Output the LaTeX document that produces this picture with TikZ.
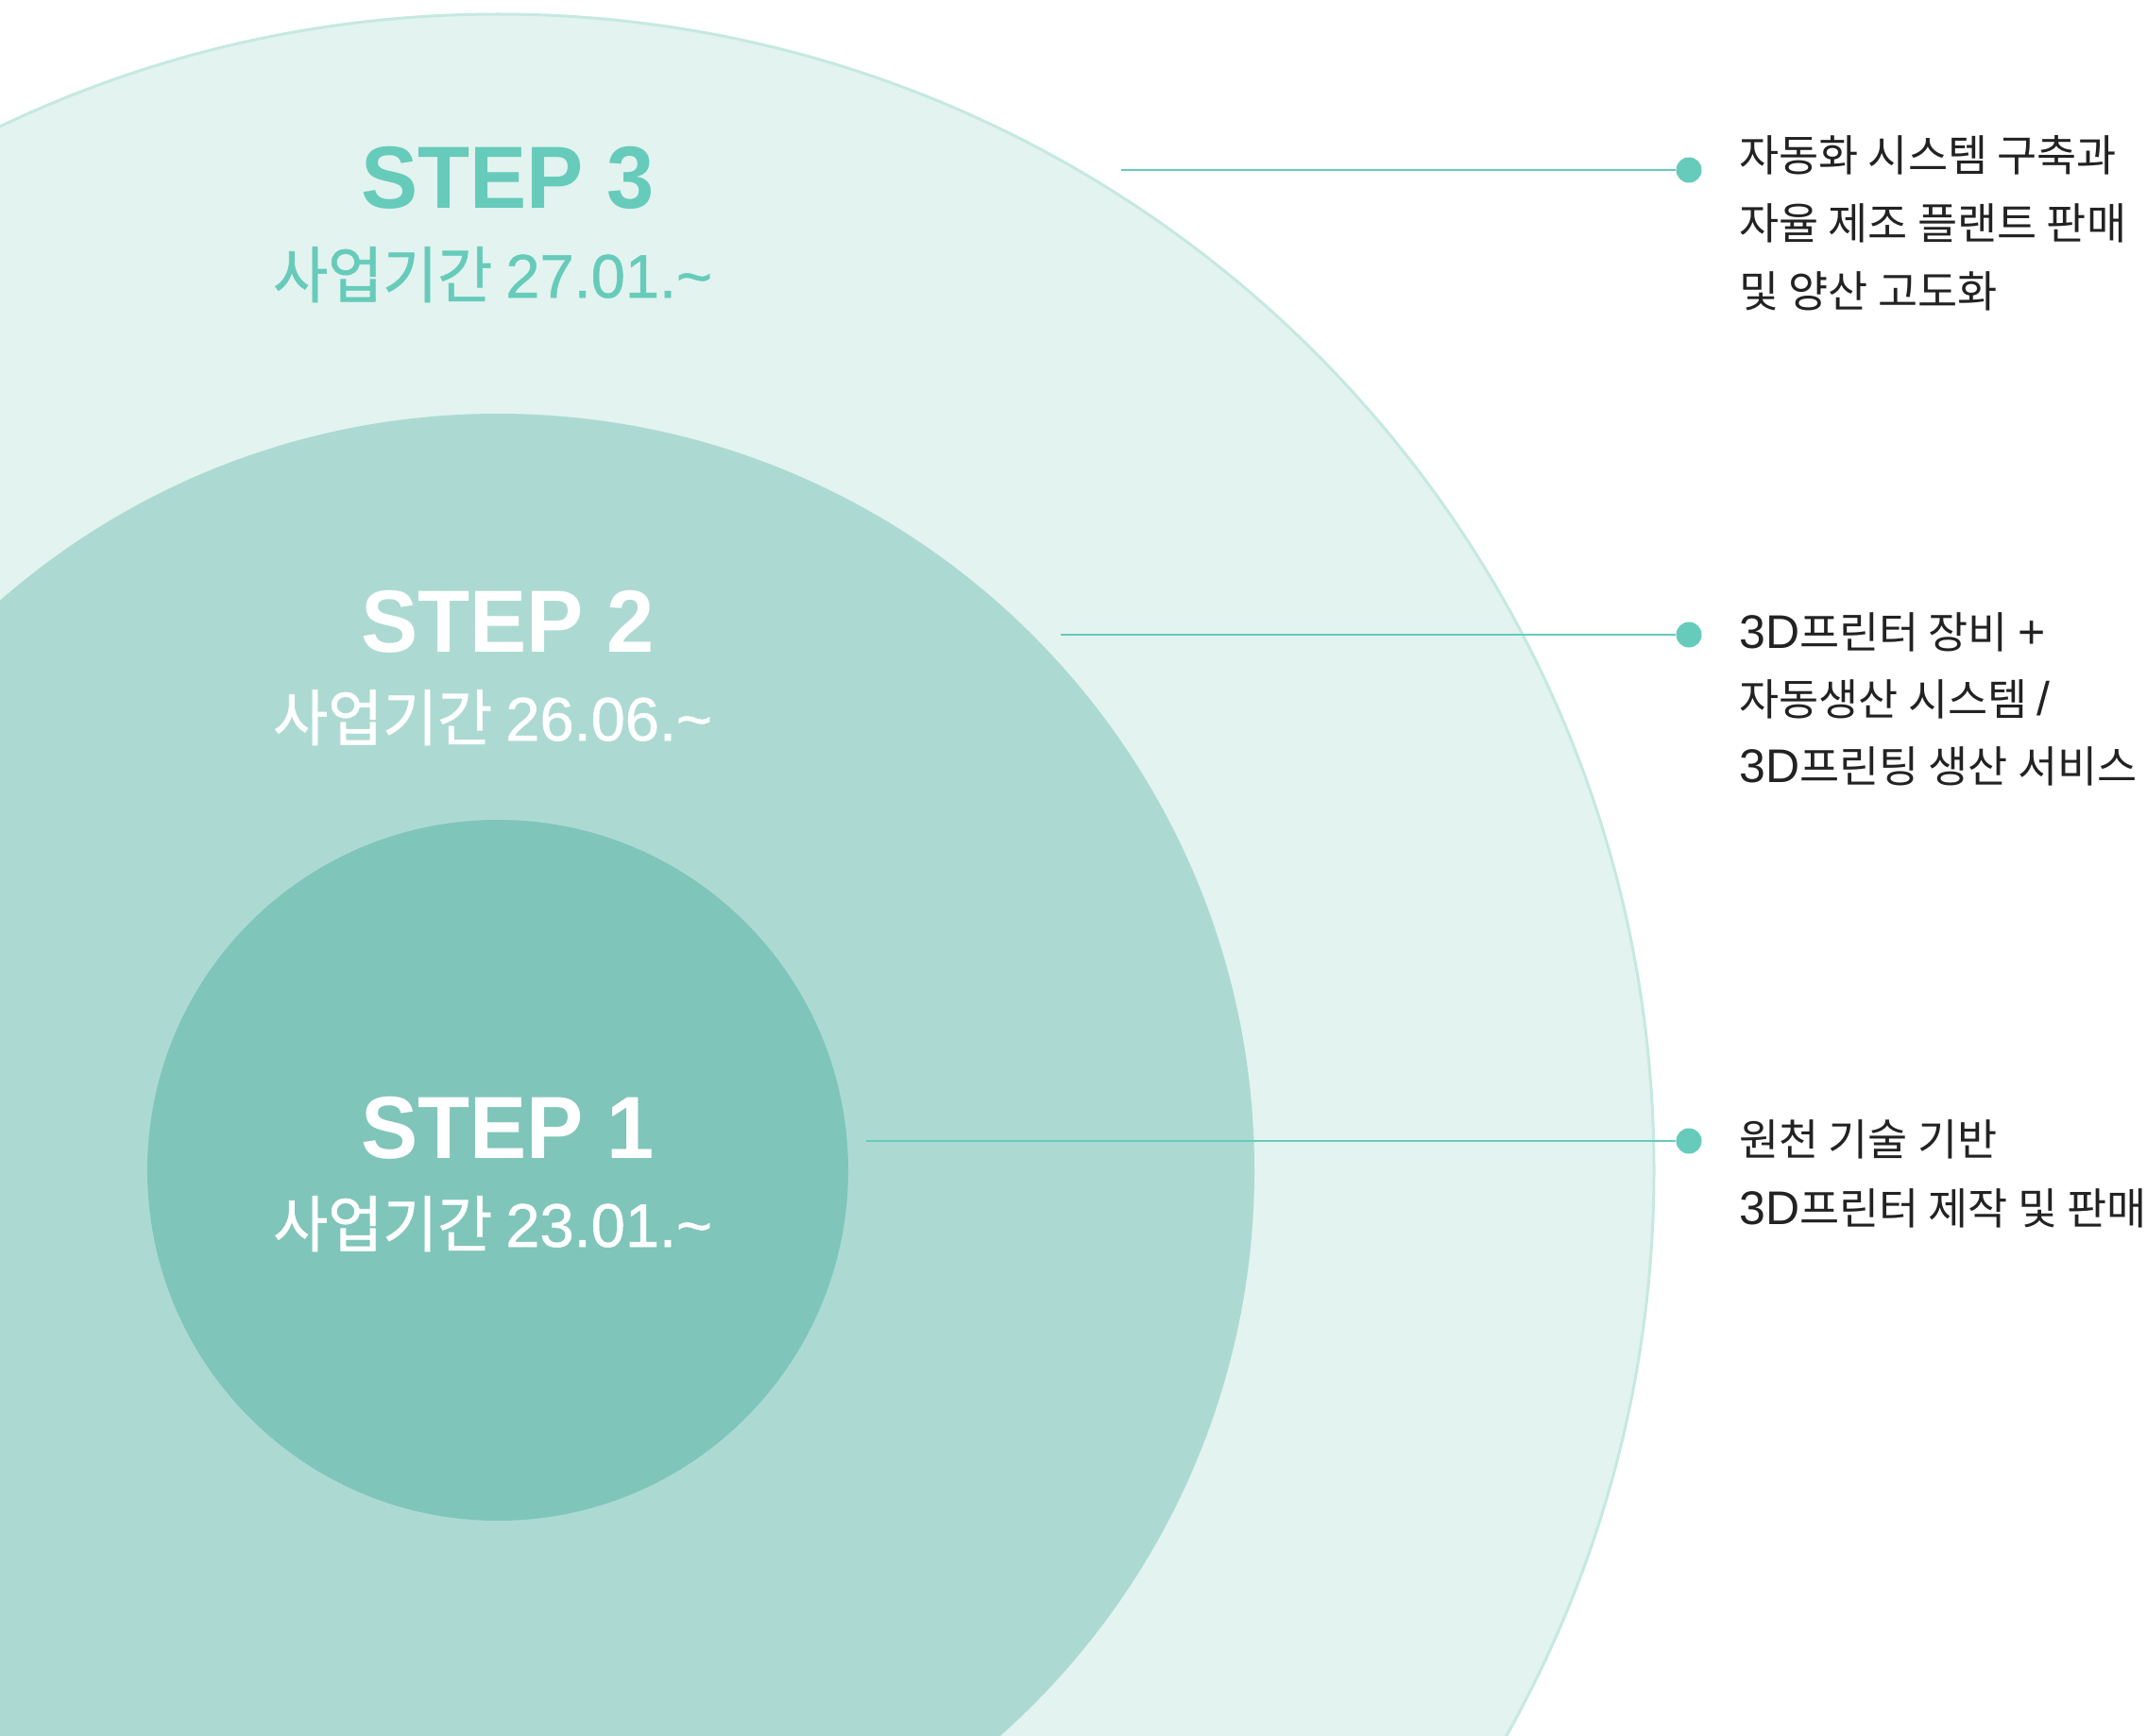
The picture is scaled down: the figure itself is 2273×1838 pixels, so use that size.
\documentclass[tikz,border=0pt]{standalone}
\usepackage{fontspec}
\setmainfont{Noto Sans CJK KR}
\newfontfamily\latb[FakeStretch=0.965]{Liberation Sans}
\newfontfamily\lat{Liberation Sans}
\newfontfamily\latsub[FakeStretch=1.0,FakeBold=0.8]{Liberation Sans}
\newfontfamily\subfont[FakeStretch=0.97,FakeBold=1]{Noto Sans CJK KR}
\newfontfamily\labfont{Noto Sans CJK KR}
\newcommand\lt[1]{{\lat\fontsize{50}{50}\selectfont #1}}
\definecolor{ringthree}{HTML}{E3F3EF}
\definecolor{ringedge}{HTML}{C5E9E0}
\definecolor{ringtwo}{HTML}{ACDAD3}
\definecolor{ringone}{HTML}{7FC5BA}
\definecolor{accent}{HTML}{66CBBA}
\definecolor{ink}{HTML}{222222}
\tikzset{
  steptitle/.style={anchor=base west, inner sep=0pt, font=\latb\bfseries\fontsize{93.5}{94}\selectfont},
  stepsub/.style={anchor=base west, inner sep=0pt, font=\subfont\fontsize{65}{65}\selectfont},
  labtext/.style={anchor=base west, inner sep=0pt, text=ink, font=\labfont\fontsize{45.8}{46}\selectfont},
  dot/.style={circle, fill=accent, inner sep=0pt, minimum size=27pt},
  lead/.style={draw=accent, line width=2.5pt}
}
\newcommand\subdate[1]{사업기간 {\latsub\fontsize{65}{65}\selectfont #1}}
\begin{document}
\begin{tikzpicture}[x=1pt,y=-1pt]
\useasboundingbox (0,0) rectangle (2273,1838);
\begin{scope}
  \clip (0,0) rectangle (2273,1838);
  \fill[white] (0,0) rectangle (2273,1838);
  \draw[fill=ringthree, draw=ringedge, line width=3pt] (527,1239) circle[radius=1224pt];
  \fill[ringtwo] (527,1239) circle[radius=801pt];
  \fill[ringone] (527,1239) circle[radius=371pt];
\end{scope}

\node[steptitle, text=accent] (s3) at (382,221) {STEP 3};
\node[stepsub, text=accent] (d3) at (289,315) {\subdate{27.01.\textasciitilde}};
\node[steptitle, text=white] (s2) at (382,690) {STEP 2};
\node[stepsub, text=white] (d2) at (289,784) {\subdate{26.06.\textasciitilde}};
\node[steptitle, text=white] (s1) at (382,1226) {STEP 1};
\node[stepsub, text=white] (d1) at (289,1320) {\subdate{23.01.\textasciitilde}};

\coordinate (q3) at (1187,180);
\coordinate (q2) at (1123,672);
\coordinate (q1) at (917,1208);
\node[dot] (p3) at (1788,180) {};
\node[dot] (p2) at (1788,672) {};
\node[dot] (p1) at (1788,1208) {};
\draw[lead] (q3) -- (p3);
\draw[lead] (q2) -- (p2);
\draw[lead] (q1) -- (p1);

\node[labtext] (l3a) at (1841,182) {자동화 시스템 구축과};
\node[labtext] (l3b) at (1841,254) {자율 제조 플랜트 판매};
\node[labtext] (l3c) at (1841,325) {및 양산 고도화};
\node[labtext] (l2a) at (1841,686) {\lt{3D}프린터 장비 \lt{+}};
\node[labtext] (l2b) at (1841,757) {자동생산 시스템 \lt{/}};
\node[labtext] (l2c) at (1841,828) {\lt{3D}프린팅 생산 서비스};
\node[labtext] (l1a) at (1841,1223) {원천 기술 기반};
\node[labtext] (l1b) at (1841,1296) {\lt{3D}프린터 제작 및 판매};
\end{tikzpicture}
\end{document}
